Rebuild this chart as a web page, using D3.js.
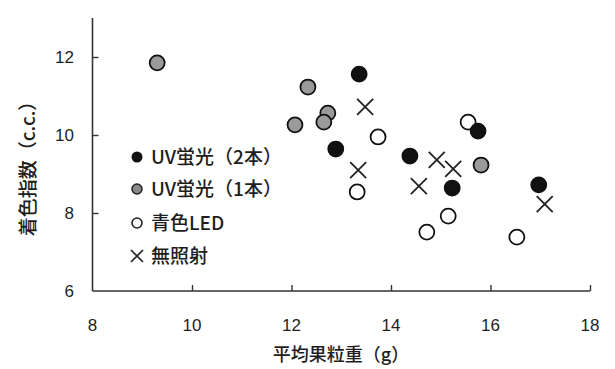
<!DOCTYPE html>
<html>
<head>
<meta charset="utf-8">
<script src="https://cdn.jsdelivr.net/npm/d3@7"></script>
<style>
  html, body { margin: 0; padding: 0; background: #fff; }
  svg { display: block; }
</style>
</head>
<body>
<svg id="chart" width="615" height="369"></svg>
<script>
// Series: x = 平均果粒重 (g), y = 着色指数 (c.c.)
const uv2X = [13.36, 12.89, 14.38, 15.75, 15.23, 16.97];
const uv2Y = [11.56, 9.64, 9.46, 10.10, 8.64, 8.72];
const uv1X = [9.30, 12.33, 12.73, 12.65, 12.07, 15.81];
const uv1Y = [11.85, 11.23, 10.56, 10.33, 10.26, 9.23];
const ledX = [13.74, 15.55, 13.32, 15.15, 14.72, 16.53];
const ledY = [9.95, 10.33, 8.54, 7.92, 7.51, 7.38];
const noneX = [13.48, 13.34, 14.92, 15.25, 14.56, 17.09];
const noneY = [10.72, 9.10, 9.36, 9.13, 8.69, 8.23];

const xTicks = [8, 10, 12, 14, 16, 18];
const yTicks = [6, 8, 10, 12];
const legendLabels = ["UV蛍光（2本）", "UV蛍光（1本）", "青色LED", "無照射"];
const xTitle = "平均果粒重（g）";
const yTitle = "着色指数（c.c.）";

const svg = d3.select("#chart");
const ink = "#1e1e1e";
const jp = "'Noto Sans CJK JP', 'Noto Sans', sans-serif";
const num = "'Liberation Sans', Arial, sans-serif";

const x = d3.scaleLinear().domain([8, 18]).range([92.5, 590]);
const y = d3.scaleLinear().domain([6, 13]).range([291, 18]);

// Axes: ticks point inward, labels drawn separately
const xAxis = svg.append("g").attr("transform", `translate(0,${y(6)})`)
  .call(d3.axisBottom(x).tickValues(xTicks.slice(1)).tickSize(-6).tickFormat(""));
const yAxis = svg.append("g").attr("transform", `translate(${x(8)},0)`)
  .call(d3.axisLeft(y).tickValues(yTicks.slice(1)).tickSize(-6).tickFormat(""));
[xAxis, yAxis].forEach(a => {
  a.select(".domain").attr("stroke", "#333").attr("stroke-width", 1.6);
  a.selectAll(".tick line").attr("stroke", "#333").attr("stroke-width", 1.4);
});
yAxis.select(".domain").attr("d", `M0,${y(6)}V${y(13)}`);
xAxis.select(".domain").attr("d", `M${x(8)},0H${x(18)}`);

svg.append("g").selectAll("text").data(xTicks).join("text")
  .attr("x", d => x(d)).attr("y", 331)
  .attr("text-anchor", "middle")
  .attr("font-family", num).attr("font-size", 17).attr("fill", ink)
  .text(d => d);
svg.append("g").selectAll("text").data(yTicks).join("text")
  .attr("x", 74).attr("y", d => y(d) + 6)
  .attr("text-anchor", "end")
  .attr("font-family", num).attr("font-size", 17).attr("fill", ink)
  .text(d => d);

svg.append("text")
  .attr("x", 341).attr("y", 361)
  .attr("text-anchor", "middle")
  .attr("font-family", jp).attr("font-size", 18).attr("font-weight", 500).attr("fill", ink)
  .text(xTitle);
svg.append("text")
  .attr("transform", "translate(35,164) rotate(-90)")
  .attr("text-anchor", "middle")
  .attr("font-family", jp).attr("font-size", 19).attr("font-weight", 500).attr("fill", ink)
  .text(yTitle);

// Marker drawing helpers
function circles(g, xs, ys, fill, r) {
  g.selectAll("circle").data(xs).join("circle")
    .attr("cx", d => x(d)).attr("cy", (d, i) => y(ys[i]))
    .attr("r", r).attr("fill", fill)
    .attr("stroke", "#111").attr("stroke-width", 1.8);
}
function crosses(g, xs, ys, s) {
  g.selectAll("path").data(xs).join("path")
    .attr("d", (d, i) => {
      const cx = x(d), cy = y(ys[i]);
      return `M${cx - s},${cy - s}L${cx + s},${cy + s}M${cx - s},${cy + s}L${cx + s},${cy - s}`;
    })
    .attr("stroke", "#222").attr("stroke-width", 1.8).attr("fill", "none");
}

const plot = svg.append("g");
crosses(plot.append("g"), noneX, noneY, 8);
circles(plot.append("g"), uv1X, uv1Y, "#9a9a9a", 7.5);
circles(plot.append("g"), ledX, ledY, "#fff", 7.5);
circles(plot.append("g"), uv2X, uv2Y, "#111", 7.5);

// Legend
const legY = [157, 189, 223, 256];
const leg = svg.append("g");
const lx = 137;
leg.append("circle").attr("cx", lx).attr("cy", legY[0]).attr("r", 5.5).attr("fill", "#111");
leg.append("circle").attr("cx", lx).attr("cy", legY[1]).attr("r", 5).attr("fill", "#888").attr("stroke", "#222").attr("stroke-width", 1.5);
leg.append("circle").attr("cx", lx).attr("cy", legY[2]).attr("r", 5).attr("fill", "#fff").attr("stroke", "#222").attr("stroke-width", 1.6);
leg.append("path")
  .attr("d", `M${lx - 6},${legY[3] - 6}L${lx + 6},${legY[3] + 6}M${lx - 6},${legY[3] + 6}L${lx + 6},${legY[3] - 6}`)
  .attr("stroke", "#222").attr("stroke-width", 1.7);
leg.selectAll("text").data(legendLabels).join("text")
  .attr("x", 151).attr("y", (d, i) => legY[i] + 7)
  .attr("font-family", jp).attr("font-size", 19).attr("font-weight", 500).attr("fill", ink)
  .text(d => d);
</script>
</body>
</html>
